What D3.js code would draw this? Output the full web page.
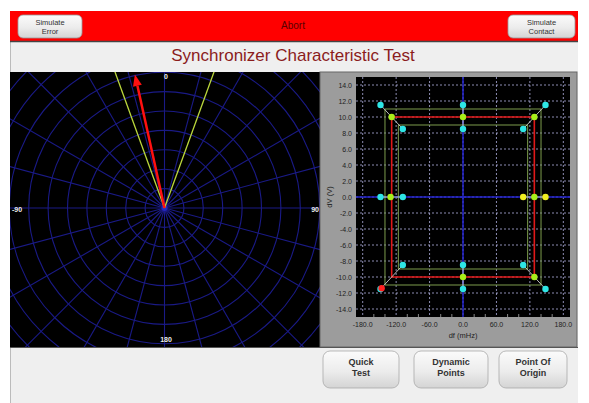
<!DOCTYPE html>
<html><head><meta charset="utf-8">
<script src="https://cdn.jsdelivr.net/npm/d3@7"></script>
<style>
body{margin:0;background:#fff;}
svg{display:block;font-family:"Liberation Sans",Arial,sans-serif;}
</style></head>
<body><svg id="c" width="589" height="403"></svg>
<script>
// ---- data ----
const title = "Synchronizer Characteristic Test";
const topButtons = [["Simulate","Error"],["Simulate","Contact"]];
const bottomButtons = [["Quick","Test"],["Dynamic","Points"],["Point Of","Origin"]];
const polarLabels = ["0","90","180","-90"];
const ringCount = 11;
const limitAngles = [-20, 20];          // degrees
const vectorAngle = -12.5;              // degrees
const vectorMag = 7.05;                 // in ring units
const yTicks = [-14,-12,-10,-8,-6,-4,-2,0,2,4,6,8,10,12,14];
const xTicks = [-180,-120,-60,0,60,120,180];
const xMinor = [-160,-140,-100,-80,-40,-20,20,40,80,100,140,160];
const cyanDf = [-148,0,148,-108,0,108,-148,-108,-108,0,108,-148,0,148];
const cyanDv = [11.5,11.5,11.5,8.5,8.5,8.5,0,0,-8.5,-8.5,-8.5,-11.5,-11.5,-11.5];
const limeDf = [-128,0,128,-130,128,0,128];
const limeDv = [10,10,10,0,0,-10,-10];
const yellowDf = [108,148];
const yellowDv = [0,0];
const redDf = [-146];
const redDv = [-11.4];
const redRectDf = [-128,128,128,-128,-128];
const redRectDv = [10,10,-10,-10,10];
const outerDf = [-140,140,140,-140,-140];
const outerDv = [11,11,-11,-11,11];
const innerDf = [-116,116,116,-116,-116];
const innerDv = [9,9,-9,-9,9];
const connDf = [[-148,-108],[148,108],[-148,-108],[148,108],[0,0],[0,0],[-148,-108],[108,148]];
const connDv = [[11.5,8.5],[11.5,8.5],[-11.5,-8.5],[-11.5,-8.5],[11.5,8.5],[-8.5,-11.5],[0,0],[0,0]];

const svg = d3.select("#c");
const defs = svg.append("defs");
const g1 = defs.append("linearGradient").attr("id","btn").attr("x1",0).attr("y1",0).attr("x2",0).attr("y2",1);
g1.append("stop").attr("offset","0%").attr("stop-color","#fbfbfb");
g1.append("stop").attr("offset","55%").attr("stop-color","#ececec");
g1.append("stop").attr("offset","100%").attr("stop-color","#d4d4d4");

// app background
svg.append("rect").attr("x",10).attr("y",11).attr("width",568).attr("height",392).attr("fill","#efefef");
svg.append("line").attr("x1",10.5).attr("x2",10.5).attr("y1",11).attr("y2",403).attr("stroke","#bbb");

// red bar
svg.append("rect").attr("x",10).attr("y",11).attr("width",568).attr("height",30).attr("fill","#ff0000");
svg.append("line").attr("x1",10).attr("x2",578).attr("y1",41.5).attr("y2",41.5).attr("stroke","#444").attr("stroke-width",1.5);
svg.append("text").attr("x",293).attr("y",29).attr("text-anchor","middle").attr("font-size",10).attr("fill","#5a0000").text("Abort");
const tb = [{x:18,w:64},{x:508,w:67}];
topButtons.forEach((t,i)=>{
  const b = tb[i];
  svg.append("rect").attr("x",b.x).attr("y",15).attr("width",b.w).attr("height",23).attr("rx",5)
     .attr("fill","url(#btn)").attr("stroke","#999").attr("stroke-width",0.8);
  t.forEach((s,j)=>svg.append("text").attr("x",b.x+b.w/2).attr("y",24.5+j*9).attr("text-anchor","middle")
     .attr("font-size",7.5).attr("fill","#333").text(s));
});

// title
svg.append("text").attr("x",293).attr("y",61).attr("text-anchor","middle").attr("font-size",17)
   .attr("fill","#8b1c1c").text(title);

// ---- polar panel ----
const P = {x:10,y:72,w:310,h:275,cx:164.5,cy:208};
defs.append("clipPath").attr("id","pc").append("rect").attr("x",P.x).attr("y",P.y).attr("width",P.w).attr("height",P.h);
svg.append("rect").attr("x",P.x).attr("y",P.y).attr("width",P.w).attr("height",P.h).attr("fill","#000");
const pg = svg.append("g").attr("clip-path","url(#pc)");
const r = d3.scaleLinear().domain([0,1]).range([0,19.4]);
const rings = d3.range(1,ringCount+1);
const gridCol = "#1a1a86";
pg.selectAll("circle.ring").data(rings).join("circle").attr("cx",P.cx).attr("cy",P.cy).attr("r",d=>r(d))
  .attr("fill","none").attr("stroke",gridCol).attr("stroke-width",1.1);
const spokes = d3.range(0,360,15);
const pt = (a,m)=>[P.cx+r(m)*Math.sin(a*Math.PI/180), P.cy-r(m)*Math.cos(a*Math.PI/180)];
pg.selectAll("line.sp").data(spokes).join("line")
  .attr("x1",P.cx).attr("y1",P.cy).attr("x2",d=>pt(d,ringCount+1)[0]).attr("y2",d=>pt(d,ringCount+1)[1])
  .attr("stroke",gridCol).attr("stroke-width",1.1);
pg.append("circle").attr("cx",P.cx).attr("cy",P.cy).attr("r",3).attr("fill","#2a2ad0").attr("opacity",0.8);
pg.selectAll("line.lim").data(limitAngles).join("line")
  .attr("x1",P.cx).attr("y1",P.cy).attr("x2",d=>pt(d,ringCount+1)[0]).attr("y2",d=>pt(d,ringCount+1)[1])
  .attr("stroke","#bcd83c").attr("stroke-width",1.3);
const tip = pt(vectorAngle,vectorMag);
const base = pt(vectorAngle,vectorMag-0.6);
pg.append("line").attr("x1",P.cx).attr("y1",P.cy).attr("x2",base[0]).attr("y2",base[1])
  .attr("stroke","#ff1010").attr("stroke-width",2.5);
const perp = (vectorAngle+90)*Math.PI/180;
const hw = 4.5;
pg.append("path").attr("d",`M${tip[0]},${tip[1]} L${base[0]+hw*Math.sin(perp)},${base[1]-hw*Math.cos(perp)} L${base[0]-hw*Math.sin(perp)},${base[1]+hw*Math.cos(perp)} Z`)
  .attr("fill","#ff1010");
const lblPos = [[166,79,"middle"],[319,212,"end"],[166,342,"middle"],[12,212,"start"]];
polarLabels.forEach((t,i)=>pg.append("text").attr("x",lblPos[i][0]).attr("y",lblPos[i][1]).attr("text-anchor",lblPos[i][2])
  .attr("font-size",7).attr("font-weight","bold").attr("fill","#eee").text(t));

// ---- right chart ----
svg.append("rect").attr("x",320).attr("y",72).attr("width",257).attr("height",275).attr("fill","#9c9c9c").attr("stroke","#666").attr("stroke-width",1);
const x = d3.scaleLinear().domain([-192,192]).range([356,570]);
const y = d3.scaleLinear().domain([-15,15]).range([317,77]);
svg.append("rect").attr("x",356).attr("y",77).attr("width",214).attr("height",240).attr("fill","#000");
const cg = svg.append("g");
cg.selectAll("line.gy").data(yTicks).join("line").attr("x1",356).attr("x2",570).attr("y1",d=>y(d)).attr("y2",d=>y(d))
  .attr("stroke","#b0b0e0").attr("stroke-width",0.8).attr("stroke-dasharray","2,2");
cg.selectAll("line.gx").data(xTicks).join("line").attr("y1",77).attr("y2",317).attr("x1",d=>x(d)).attr("x2",d=>x(d))
  .attr("stroke","#b0b0e0").attr("stroke-width",0.8).attr("stroke-dasharray","2,2");
cg.selectAll("line.mn").data(xMinor).join("line").attr("y1",314).attr("y2",317).attr("x1",d=>x(d)).attr("x2",d=>x(d))
  .attr("stroke","#aaa").attr("stroke-width",0.8);
cg.append("line").attr("x1",x(0)).attr("x2",x(0)).attr("y1",77).attr("y2",317).attr("stroke","#2222cc").attr("stroke-width",1.5);
cg.append("line").attr("y1",y(0)).attr("y2",y(0)).attr("x1",356).attr("x2",570).attr("stroke","#2222cc").attr("stroke-width",1.5);

const line = d3.line().x(d=>x(d[0])).y(d=>y(d[1]));
const zip = (a,b)=>a.map((v,i)=>[v,b[i]]);
cg.append("path").attr("d",line(zip(outerDf,outerDv))).attr("fill","none").attr("stroke","#7c9c4c").attr("stroke-width",1);
cg.append("path").attr("d",line(zip(innerDf,innerDv))).attr("fill","none").attr("stroke","#7c9c4c").attr("stroke-width",1);
cg.append("path").attr("d",line(zip(redRectDf,redRectDv))).attr("fill","none").attr("stroke","#e01818").attr("stroke-width",1.6);
connDf.forEach((d,i)=>cg.append("path").attr("d",line(zip(d,connDv[i]))).attr("fill","none").attr("stroke","#cfcfcf").attr("stroke-width",0.9));

const dots = (xs,ys,col)=>cg.selectAll(null).data(zip(xs,ys)).join("circle")
  .attr("cx",d=>x(d[0])).attr("cy",d=>y(d[1])).attr("r",3.2).attr("fill",col);
dots(cyanDf,cyanDv,"#2ee6e6");
dots(limeDf,limeDv,"#a8ee1a");
dots(yellowDf,yellowDv,"#f0f020");
dots(redDf,redDv,"#ff2020");

// axes labels
svg.selectAll("text.yt").data(yTicks).join("text").attr("x",352).attr("y",d=>y(d)+2.5).attr("text-anchor","end")
  .attr("font-size",7).attr("fill","#222").text(d=>d.toFixed(1));
svg.selectAll("text.xt").data(xTicks).join("text").attr("x",d=>x(d)).attr("y",327).attr("text-anchor","middle")
  .attr("font-size",7).attr("fill","#222").text(d=>d.toFixed(1));
svg.append("text").attr("transform","translate(332,197) rotate(-90)").attr("text-anchor","middle")
  .attr("font-size",7.5).attr("fill","#222").text("dV (V)");
svg.append("text").attr("x",463).attr("y",338).attr("text-anchor","middle").attr("font-size",7.5).attr("fill","#222").text("df (mHz)");

svg.append("line").attr("x1",10).attr("x2",578).attr("y1",347.5).attr("y2",347.5).attr("stroke","#555").attr("stroke-width",1);

// bottom buttons
const bb = [{x:323,w:76},{x:414,w:74},{x:499,w:68}];
bottomButtons.forEach((t,i)=>{
  const b = bb[i];
  svg.append("rect").attr("x",b.x).attr("y",351).attr("width",b.w).attr("height",37).attr("rx",7)
     .attr("fill","url(#btn)").attr("stroke","#aaa").attr("stroke-width",0.8);
  t.forEach((s,j)=>svg.append("text").attr("x",b.x+b.w/2).attr("y",365+j*11).attr("text-anchor","middle")
     .attr("font-size",9).attr("font-weight","bold").attr("fill","#333").text(s));
});
</script></body></html>
